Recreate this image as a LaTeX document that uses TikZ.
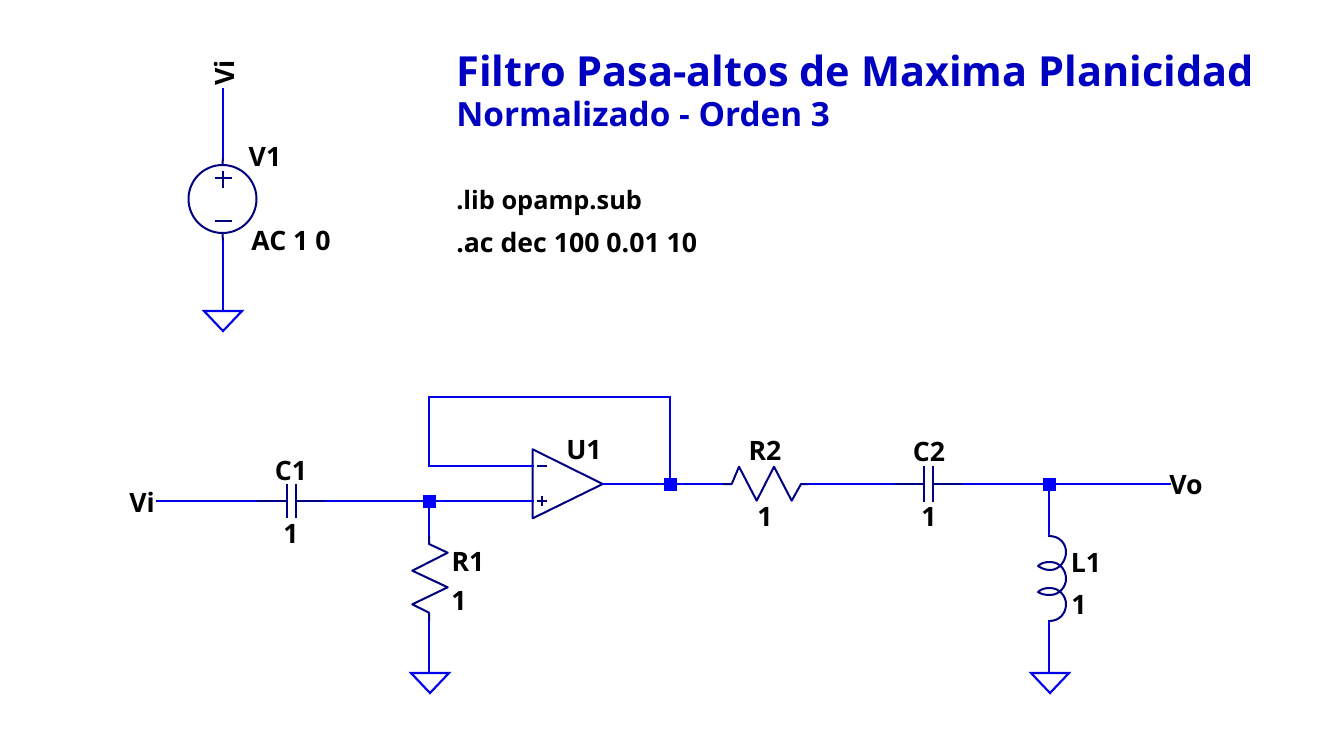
\documentclass[tikz,border=0pt]{standalone}
\usepackage{fontspec}
\setmainfont{Open Sans}
\definecolor{wirec}{RGB}{0,0,235}
\definecolor{compc}{RGB}{0,0,128}
\definecolor{titlec}{RGB}{0,0,192}
\tikzset{
  wire/.style={draw=wirec,line width=1.6pt,line cap=rect,line join=miter},
  comp/.style={draw=compc,line width=1.5pt,line join=round},
  gnd/.style={draw=wirec,line width=1.6pt,line join=miter},
  junction/.style={fill=blue,draw=none,minimum size=9.75pt,inner sep=0pt,shape=rectangle},
  lbl/.style={inner sep=0pt,font=\fontsize{20}{24}\selectfont\bfseries,text=black},
  txt/.style={lbl,anchor=west},
  ttl/.style={inner sep=0pt,anchor=west,text=titlec,font=\fontsize{31.1}{36}\selectfont\bfseries},
  sub/.style={inner sep=0pt,anchor=west,text=titlec,font=\fontsize{25}{30}\selectfont\bfseries}
}
\begin{document}
\begin{tikzpicture}[x=0.75pt,y=-0.75pt]
\useasboundingbox (0,0) rectangle (1339,732);
% texts
\node[ttl] (title) at (456,71) {Filtro Pasa-altos de Maxima Planicidad};
\node[sub] (subtitle) at (456,114) {Normalizado - Orden 3};
\node[txt,font=\fontsize{19}{24}\selectfont\bfseries] (lib) at (456,202.5) {.lib opamp.sub};
\node[txt] (ac) at (456,243) {.ac dec 100 0.01 10};
% source
\node[lbl,rotate=90] (viTop) at (224,73) {Vi};
\node[lbl] (v1name) at (265,157) {V1};
\node[lbl] (v1val) at (291,241) {AC 1 0};
\node[draw=compc,line width=1.5pt,circle,minimum size=51pt,inner sep=0pt] (V1) at (222.5,199) {};
\coordinate (v1a) at (223,158);
\coordinate (v1b) at (223,241);
\coordinate (g1) at (223,311);
\draw[wire] (223,89) -- (v1a);
\draw[comp] (v1a) -- (V1.north);
\draw[comp] (V1.south) -- (v1b);
\draw[wire] (v1b) -- (g1);
\draw[comp,line width=1.2pt] (214.7,178) -- (231.7,178) (223,170.5) -- (223,188);
\draw[comp,line width=1.2pt] (214.7,221) -- (231.7,221);
\draw[gnd] (204,311) -- (242,311) -- (223,331) -- cycle;
% C1
\node[lbl] (viL) at (142,502) {Vi};
\node[lbl] (c1name) at (291,471) {C1};
\node[lbl] (c1val) at (291,534) {1};
\node[junction] (j1) at (429.5,501) {};
\coordinate (c1a) at (257,501);
\coordinate (c1p) at (286.7,501);
\coordinate (c1q) at (296,501);
\coordinate (c1b) at (326,501);
\draw[wire] (157,501) -- (c1a);
\draw[comp] (c1a) -- (c1p);
\draw[comp] (286.7,484) -- (286.7,518);
\draw[comp] (296,484) -- (296,518);
\draw[comp] (c1q) -- (c1b);
\draw[wire] (c1b) -- (j1);
% opamp
\node[lbl] (u1name) at (584,450) {U1};
\coordinate (ipos) at (533,501);
\coordinate (ineg) at (533,466);
\coordinate (oout) at (602.7,484);
\draw[comp,line width=1.5pt] (532.7,449.3) -- (oout) -- (532.7,518.3) -- cycle;
\draw[comp,line width=1.2pt] (537,466) -- (547,466);
\draw[comp,line width=1.2pt] (537,500.7) -- (547,500.7) (542,495.7) -- (542,505.7);
\node[junction] (j2) at (670.5,484) {};
\draw[wire] (j1) -- (ipos);
\draw[wire] (ineg) -- (429,466) -- (429,397) -- (670,397) -- (670,484);
\draw[wire] (oout) -- (j2);
% R1
\node[lbl] (r1name) at (468,562) {R1};
\node[lbl] (r1val) at (459,601) {1};
\coordinate (r1a) at (429,536);
\coordinate (r1b) at (429,621);
\coordinate (g2) at (429,673);
\draw[wire] (j1.south -| r1a) -- (r1a);
\draw[comp] (r1a) -- (429,544) -- (447.7,552.7) -- (412.3,570.7) -- (447.7,587.3) -- (412.3,604.3) -- (429,612.7) -- (r1b);
\draw[wire] (r1b) -- (g2);
\draw[gnd] (411,673) -- (449,673) -- (430,693) -- cycle;
% R2
\node[lbl] (r2name) at (765,451) {R2};
\node[lbl] (r2val) at (765,517) {1};
\coordinate (r2a) at (723,484);
\coordinate (r2b) at (808,484);
\draw[wire] (j2) -- (r2a);
\draw[comp] (r2a) -- (731.7,484) -- (739,466.7) -- (756.7,500.7) -- (774,466.7) -- (791.7,500.7) -- (801,484) -- (r2b);
% C2
\node[lbl] (c2name) at (929,452) {C2};
\node[lbl] (c2val) at (929,517) {1};
\node[junction] (j3) at (1049.5,484) {};
\coordinate (c2a) at (895,484);
\coordinate (c2b) at (962.7,484);
\draw[wire] (r2b) -- (c2a);
\draw[comp] (c2a) -- (924.3,484);
\draw[comp] (924.3,466) -- (924.3,501.7);
\draw[comp] (933,466) -- (933,501.7);
\draw[comp] (933,484) -- (c2b);
\draw[wire] (c2b) -- (j3);
% Vo
\node[lbl] (vo) at (1186,485) {Vo};
\coordinate (voa) at (1170,484);
\draw[wire] (j3) -- (voa);
% L1
\node[lbl] (l1name) at (1086,563) {L1};
\node[lbl] (l1val) at (1079,605) {1};
\coordinate (l1a) at (1049,536);
\coordinate (l1b) at (1049,621);
\coordinate (g3) at (1049,673);
\draw[wire] (j3.south -| l1a) -- (l1a);
\draw[comp] (l1a) .. controls (1060,536) and (1066,544) .. (1066,552)
  .. controls (1066,560) and (1060,570) .. (1050,570)
  .. controls (1045,570) and (1041,568) .. (1038,566)
  .. controls (1041,563) and (1045,562) .. (1050,562)
  .. controls (1060,562) and (1066,570) .. (1066,579)
  .. controls (1066,586) and (1060,595) .. (1050,595)
  .. controls (1045,595) and (1041,594) .. (1038,592)
  .. controls (1041,589) and (1045,588) .. (1050,588)
  .. controls (1060,588) and (1066,597) .. (1066,604)
  .. controls (1066,613) and (1060,621) .. (l1b);
\draw[wire] (l1b) -- (g3);
\draw[gnd] (1031,673) -- (1069,673) -- (1050,693) -- cycle;
\end{tikzpicture}
\end{document}
